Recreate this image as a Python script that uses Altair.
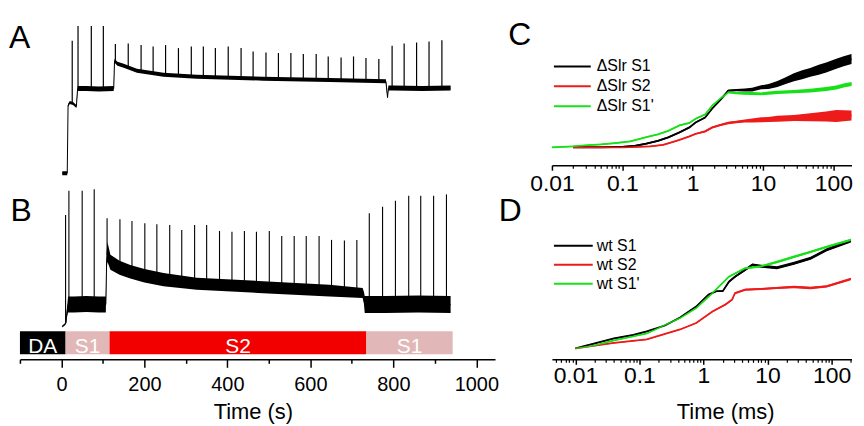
import altair as alt
import pandas as pd

FONT = "Liberation Sans"

# ---------------- Panel A (time in s, signal in a.u.) ----------------
A_time = [2, 14, 16, 20, 28, 36, 39, 60, 90, 126, 128, 135, 150, 182, 246, 326, 486, 646, 782, 786, 788, 800, 870, 938]
A_level = [12, 12, 80, 83, 82, 79, 97, 97, 96.5, 97, 125, 122, 120, 115, 111, 109, 107, 105.7, 104.3, 88, 97.5, 97.5, 97, 97.5]
A_noise = [2, 2, 1.5, 1.5, 1.5, 1.5, 2.5, 2.5, 2.5, 2.5, 2, 2, 2, 2, 2, 2, 2, 2, 2, 1, 2.5, 2.5, 2.5, 2.5]
A_spike_time = [26, 40, 72, 101, 130, 161, 192, 221, 251, 282, 313, 342, 371, 402, 433, 462, 493, 523, 553, 583,
                614, 643, 674, 704, 734, 765, 797, 826, 856, 886, 917]
A_spike_top = [145, 160, 160, 160, 141.7, 142.3, 140.7, 139.3, 140.7, 137.7, 139.3, 139.3, 137.7, 139.3, 137.7,
               134.3, 133.3, 132.7, 132.7, 131.7, 131.7, 129.3, 128.3, 129.3, 127.7, 126.7, 140, 142.3, 143.3, 144.3, 145.7]
A_spike_base = [82, 97, 97, 97, 123, 118, 114.5, 112.5, 111, 110, 109.3, 108.7, 108.3, 107.8, 107.5, 107.2, 106.9,
                106.5, 106.3, 106.1, 105.8, 105.6, 105.2, 104.9, 104.7, 104.5, 97.5, 97.5, 97.5, 97.5, 97.5]

# ---------------- Panel B ----------------
B_time = [2, 8, 11, 13, 16, 30, 60, 90, 107, 109, 111, 118, 140, 166, 200, 246, 326, 486, 646, 726, 729, 731, 780, 860, 938]
B_level = [33, 35, 37, 46, 55, 55, 55.5, 55, 55, 100, 108, 97.5, 92, 88, 84, 80, 76, 72.5, 69, 66.7, 62, 55, 55, 55.5, 55]
B_noise = [1, 1, 1.5, 4, 8, 8, 8, 8, 8, 8, 10, 7.5, 7, 6.7, 6.7, 6.7, 6, 6, 6, 5, 6, 8.5, 8.5, 8.5, 8.5]
B_spike_time = [10, 18, 50, 79, 110, 141, 170, 201, 230, 261, 290, 321, 350, 381, 411, 441, 470, 501, 531, 561,
                590, 621, 651, 682, 712, 742, 774, 805, 837, 866, 897, 928]
B_spike_top = [145, 169.3, 169.3, 171, 141.7, 140.7, 139, 136.7, 135.7, 135, 130, 135, 135, 129, 128.3, 129, 128.3,
               129, 124, 124, 124, 124, 120, 119.3, 120, 146.7, 153.3, 159.3, 164.3, 164.3, 164.3, 165.7]
B_spike_base = [36, 50, 55, 55, 105, 93, 87.5, 84, 81, 79.5, 78, 76.2, 75.5, 74.8, 74, 73.4, 72.8, 72, 71.4, 70.8,
                70.2, 69.6, 69, 68, 67, 55, 55, 55, 55, 55, 55, 55]

phase_key = ["DA", "S1", "S2", "S1'"]
phase_label = ["DA", "S1", "S2", "S1"]
phase_start = [-100, 10, 116, 735]
phase_end = [10, 116, 735, 943]
phase_colors = ["#000000", "#E2B7B7", "#F20000", "#E2B7B7"]

# ---------------- Panel C (time in ms) ----------------
C_names = ["\u0394Slr S1", "\u0394Slr S2", "\u0394Slr S1'"]
C_S1_time = [0.02, 0.05, 0.1, 0.15, 0.22, 0.32, 0.45, 0.65, 0.9, 1.1, 1.5, 1.9, 2.5, 3.2, 4.2, 5.5, 7, 9.4, 12, 16,
             21, 27.5, 36, 47, 62, 79, 110, 140, 181]
C_S1_val = [3, 3, 3.5, 4.5, 6.7, 9.5, 13, 18, 23, 28, 33, 42, 51, 60, 60.5, 60.7, 61, 63.3, 64, 66.7, 70, 73.3, 76,
            78.3, 81, 83.3, 87, 89.5, 91.7]
C_S1_noise = [0.8, 0.8, 0.8, 0.8, 0.8, 0.8, 0.8, 0.8, 0.8, 0.8, 0.8, 0.8, 0.8, 0.8, 1.2, 1.5, 1.8, 2, 2.5, 3, 3.5,
              4, 4.5, 4.5, 5, 5, 5, 5, 5]
C_S2_time = [0.02, 0.05, 0.1, 0.25, 0.38, 0.5, 0.65, 0.9, 1.1, 1.5, 1.9, 2.5, 3.2, 4.2, 5.5, 7, 9.4, 12, 16, 27.5,
             47, 79, 110, 140, 181]
C_S2_val = [3, 3, 3, 4, 5.5, 8, 10.5, 14, 16.5, 19, 23, 25.5, 27.5, 28.5, 29.5, 30, 30.7, 31, 31.7, 32.5, 33.3, 34,
            34.5, 34.8, 35]
C_S2_noise = [0.7, 0.7, 0.7, 0.7, 0.7, 0.7, 0.7, 0.7, 0.7, 1, 1, 1, 1.2, 1.3, 1.5, 2, 2.5, 2.5, 3, 3, 4, 5, 6, 5.5, 5]
C_S1p_time = [0.01, 0.02, 0.03, 0.05, 0.08, 0.13, 0.22, 0.32, 0.45, 0.65, 0.9, 1.1, 1.5, 1.9, 2.5, 3.2, 4.2, 5.5, 7,
              9.4, 12, 16, 27.5, 47, 79, 110, 140, 181]
C_S1p_val = [3, 4, 5, 6, 7.3, 9, 13.3, 16, 19.5, 25, 27.5, 31.7, 36, 45, 52, 58.3, 57.5, 57.3, 57, 56.7, 57.5, 58.3,
             59, 60, 61.5, 63, 65, 66.7]
C_S1p_noise = [0.7, 0.7, 0.7, 0.7, 0.7, 0.7, 0.7, 0.7, 0.7, 0.7, 0.7, 0.7, 0.7, 0.7, 0.7, 0.7, 1.2, 1.4, 1.5, 1.5,
               1.6, 1.6, 1.7, 1.8, 2, 2, 2, 2]

# ---------------- Panel D (time in ms) ----------------
D_names = ["wt S1", "wt S2", "wt S1'"]
D_S1_time = [0.01, 0.02, 0.04, 0.08, 0.13, 0.25, 0.43, 0.77, 1.2, 1.6, 2.0, 2.5, 3.1, 4.5, 5.8, 8, 14, 26, 47, 84, 200]
D_S1_val = [3, 8, 13, 16.5, 20, 26, 34, 45, 57, 60.5, 60.5, 70, 75, 82, 87, 85.5, 84, 88.5, 93.5, 102, 111]
D_S1_noise = [0.5, 0.5, 0.5, 0.5, 0.5, 0.5, 0.5, 0.5, 0.5, 0.5, 0.8, 1, 1, 1.2, 1.2, 1.5, 1.5, 1.5, 1.5, 1.5, 1.5]
D_S2_time = [0.01, 0.04, 0.13, 0.43, 0.77, 1.38, 2.2, 2.8, 3.1, 4.47, 8, 14, 26, 47, 84, 200]
D_S2_val = [3, 8.5, 12, 22, 28.5, 40, 47, 52, 58.5, 62, 62.7, 63.7, 64.7, 63.7, 65.3, 72.7]
D_S2_noise = [0.5, 0.5, 0.5, 0.5, 0.5, 0.6, 0.8, 0.8, 1, 1, 1, 1, 1.2, 1.2, 1.2, 1.2]
D_S1p_time = [0.01, 0.02, 0.04, 0.13, 0.43, 0.77, 1.38, 2.49, 4.47, 8, 14.4, 26, 47, 84, 200]
D_S1p_val = [3, 6, 11, 18, 33.5, 43.5, 58.5, 75, 83.5, 85.5, 90, 95, 100, 105, 112]
D_S1p_noise = [0.5, 0.5, 0.5, 0.5, 0.5, 0.5, 0.6, 0.8, 1, 1, 1.2, 1.2, 1.2, 1.2, 1.2]

trace_colors = ["#000000", "#EE1B1B", "#18E018"]

# ---------------- helpers ----------------
def band_df(times, vals, noise, name=None):
    df = pd.DataFrame({"t": times, "mid": vals,
                       "lo": [v - n for v, n in zip(vals, noise)],
                       "hi": [v + n for v, n in zip(vals, noise)]})
    if name is not None:
        df["series"] = name
    return df

def letter(txt, dx, dy):
    return alt.Chart(pd.DataFrame({"label": [txt]})).mark_text(
        align="left", baseline="top", fontSize=32, font=FONT, color="black"
    ).encode(text="label:N", x=alt.value(dx), y=alt.value(dy))

W_L, W_R = 477.3, 301
H_A, H_B, H_C, H_D = 168, 174, 147, 174

time_scale = alt.Scale(domain=[-100, 1045], nice=False, zero=False)

# ---------------- Panel A chart ----------------
dfA = band_df(A_time, A_level, A_noise)
dfAs = pd.DataFrame({"t": A_spike_time, "top": A_spike_top, "base": A_spike_base})
yA = alt.Scale(domain=[-1, 167], nice=False, zero=False)
xA = alt.X("t:Q", scale=time_scale, axis=None)
chartA = alt.layer(
    alt.Chart(dfA).mark_area(color="black").encode(x=xA, y=alt.Y("lo:Q", scale=yA, axis=None), y2="hi:Q"),
    alt.Chart(dfA).mark_line(color="black", strokeWidth=1).encode(x=xA, y=alt.Y("mid:Q", scale=yA, axis=None)),
    alt.Chart(dfAs).mark_rule(color="black", strokeWidth=1.2).encode(x=xA, y=alt.Y("top:Q", scale=yA, axis=None), y2="base:Q"),
    letter("A", -11, 4.6),
).properties(width=W_L, height=H_A)

# ---------------- Panel B chart ----------------
dfB = band_df(B_time, B_level, B_noise)
dfBs = pd.DataFrame({"t": B_spike_time, "top": B_spike_top, "base": B_spike_base})
dfPh = pd.DataFrame({"key": phase_key, "label": phase_label, "start": phase_start, "end": phase_end})
yB = alt.Scale(domain=[0, 174], nice=False, zero=False)

axis_major_B = alt.Axis(orient="bottom", values=[0, 200, 400, 600, 800, 1000], format="d", tickSize=8,
                        tickWidth=1.5, domainWidth=1.5, labelFontSize=20, labelPadding=7, labelFlush=False,
                        labelOverlap=False, title="Time (s)", titleFontSize=22, titlePadding=7, titleX=234,
                        grid=False)
axis_minor_B = alt.Axis(orient="bottom", values=[-100, 100, 300, 500, 700, 900], tickSize=4, tickWidth=1.5,
                        labels=False, domain=False, title=None, grid=False)

chartB = alt.layer(
    alt.Chart(dfB).mark_area(color="black").encode(
        x=alt.X("t:Q", scale=time_scale, axis=axis_major_B),
        y=alt.Y("lo:Q", scale=yB, axis=None), y2="hi:Q"),
    alt.Chart(dfB).mark_line(color="black", strokeWidth=1).encode(
        x=alt.X("t:Q", scale=time_scale, axis=None), y=alt.Y("mid:Q", scale=yB, axis=None)),
    alt.Chart(dfBs).mark_rule(color="black", strokeWidth=1.1).encode(
        x=alt.X("t:Q", scale=time_scale, axis=axis_minor_B),
        y=alt.Y("top:Q", scale=yB, axis=None), y2="base:Q"),
    alt.Chart(dfPh).mark_rect().encode(
        x=alt.X("start:Q", scale=time_scale, axis=None), x2="end:Q",
        y=alt.value(145.7), y2=alt.value(169),
        color=alt.Color("key:N", scale=alt.Scale(domain=phase_key, range=phase_colors), legend=None)),
    alt.Chart(dfPh).transform_calculate(mid="(datum.start + datum.end) / 2").mark_text(
        color="white", fontSize=21, font=FONT, baseline="alphabetic", align="center"
    ).encode(x=alt.X("mid:Q", scale=time_scale, axis=None), y=alt.value(167.5), text="label:N"),
    letter("B", -9.4, 9.9),
).resolve_axis(x="independent").properties(width=W_L, height=H_B)

# ---------------- log panels ----------------
def log_minor(lo, hi):
    vals = []
    for d in [0.001, 0.01, 0.1, 1, 10, 100]:
        for m in range(2, 10):
            v = round(m * d, 6)
            if lo <= v <= hi:
                vals.append(v)
    return vals

def log_panel(df, names, domain, ydomain, height, legend_y, clip_h, sym_len, lab_off, title, title_x,
              letter_chart, title_pad, label_pad):
    xs = alt.Scale(type="log", domain=domain, nice=False)
    ys = alt.Scale(domain=ydomain, nice=False, zero=False)
    cs = alt.Scale(domain=names, range=trace_colors)
    ax_major = alt.Axis(orient="bottom", values=[0.01, 0.1, 1, 10, 100], format="~g", tickSize=5, tickWidth=1.5,
                        domainWidth=1.5, labelFontSize=23, labelPadding=label_pad, labelFlush=False,
                        labelOverlap=False, grid=False, title=title, titleFontSize=22, titlePadding=title_pad,
                        **({"titleX": title_x} if title else {}))
    ax_minor = alt.Axis(orient="bottom", values=log_minor(domain[0], domain[1]), tickSize=3, tickWidth=1.2,
                        labels=False, domain=False, title=None, grid=False)
    leg = alt.Legend(orient="none", legendX=1, legendY=legend_y, title=None, symbolType="stroke",
                     symbolSize=sym_len * sym_len, symbolStrokeWidth=2, labelFontSize=16, labelFont=FONT,
                     labelColor="black", labelOffset=lab_off, clipHeight=clip_h, rowPadding=0, padding=0)
    line = alt.Chart(df).mark_line(strokeWidth=1.8).encode(
        x=alt.X("t:Q", scale=xs, axis=ax_major),
        y=alt.Y("mid:Q", scale=ys, axis=None),
        color=alt.Color("series:N", scale=cs, legend=leg))
    band = alt.Chart(df).mark_area(opacity=1).encode(
        x=alt.X("t:Q", scale=xs, axis=ax_minor),
        y=alt.Y("lo:Q", scale=ys, axis=None, stack=None), y2="hi:Q",
        color=alt.Color("series:N", scale=cs, legend=leg))
    return alt.layer(line, band, letter_chart).resolve_axis(x="independent").properties(width=W_R, height=height)

dfC = pd.concat([band_df(C_S1_time, C_S1_val, C_S1_noise, C_names[0]),
                 band_df(C_S2_time, C_S2_val, C_S2_noise, C_names[1]),
                 band_df(C_S1p_time, C_S1p_val, C_S1p_noise, C_names[2])], ignore_index=True)
dfD = pd.concat([band_df(D_S1_time, D_S1_val, D_S1_noise, D_names[0]),
                 band_df(D_S2_time, D_S2_val, D_S2_noise, D_names[1]),
                 band_df(D_S1p_time, D_S1p_val, D_S1p_noise, D_names[2])], ignore_index=True)

chartC = log_panel(dfC, C_names, [0.01, 181], [-15, 132], H_C, 37.7, 20, 37, 5, None, None,
                   letter("C", -44, 1.3), 0, 2)
chartD = log_panel(dfD, D_names, [0.0043, 205], [-8, 166], H_D, 50.75, 18.5, 39, 3, "Time (ms)", 174,
                   letter("D", -53.5, 10.4), 14, 0.5)

chart = alt.concat(
    chartA, chartC, chartB, chartD, columns=2, align="each", bounds="flush",
    spacing={"row": 0, "column": 56.5}
).resolve_scale(color="independent").properties(
    padding={"left": 1, "top": 10, "right": 0, "bottom": 0}
).configure_view(stroke=None).configure_axis(
    domainColor="black", tickColor="black", labelColor="black", titleColor="black",
    labelFont=FONT, titleFont=FONT, titleFontWeight="normal", grid=False
).configure_legend(labelFont=FONT)

chart.save("out.html", embed_options={"renderer": "svg", "actions": False})
